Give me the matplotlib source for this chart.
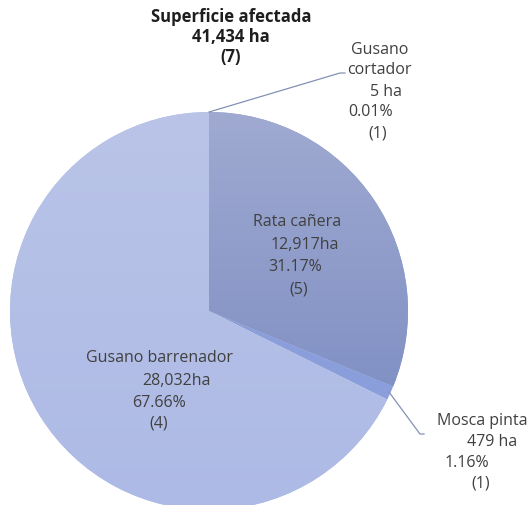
import matplotlib
matplotlib.use("Agg")
import matplotlib.pyplot as plt
import numpy as np
from matplotlib.colors import LinearSegmentedColormap

plagas = ["Gusano cortador", "Rata cañera", "Mosca pinta", "Gusano barrenador"]
hectareas = [5, 12917, 479, 28032]
porcentajes = ["0.01%", "31.17%", "1.16%", "67.66%"]
casos = [1, 5, 1, 4]
total_ha = "41,434"
total_casos = 7

colores = ["#a3aed6", "#919dca", "#8a9edb", "#b2bfe6"]

W, H = 531, 506
fig = plt.figure(figsize=(W / 100, H / 100), dpi=100)

# pie centre ~ (209, 312) px, radius ~199 px (bottom is cut by the image edge)
cx, cy, r = 209, 312, 199
ax = fig.add_axes([(cx - r) / W, 1 - (cy + r) / H, 2 * r / W, 2 * r / H])
wedges, _ = ax.pie(hectareas, colors=colores, startangle=90, counterclock=False,
                   radius=1, wedgeprops=dict(linewidth=0))

# degradado vertical en la rebanada de rata cañera
cmap = LinearSegmentedColormap.from_list("rata", ["#8090c4", "#a0aad1"])
grad = np.linspace(0, 1, 256).reshape(-1, 1)
im = ax.imshow(grad, cmap=cmap, extent=[-1, 1, -0.45, 1], origin="lower",
               aspect="auto", interpolation="bilinear", zorder=2)
im.set_clip_path(wedges[1])

# barrenador un poco mas claro arriba
cmap2 = LinearSegmentedColormap.from_list("barr", ["#adbae5", "#bac4e8"])
grad2 = np.linspace(0, 1, 256).reshape(-1, 1)
im2 = ax.imshow(grad2, cmap=cmap2, extent=[-1, 1, -1, 1], origin="lower",
                aspect="auto", interpolation="bilinear", zorder=2)
im2.set_clip_path(wedges[3])

ax.set_xlim(-1, 1)
ax.set_ylim(-1, 1)
ax.axis("off")

def px(x, y):
    return x / W, 1 - y / H

font = "Open Sans"
tc = "#404040"

# titulo
for txt, y in [("Superficie afectada", 17), (total_ha + " ha", 37), ("(%d)" % total_casos, 57)]:
    fig.text(*px(231, y), txt, ha="center", va="center", fontsize=12,
             fontweight="bold", family=font, color="#1e1e1e")

def etiqueta(lineas):
    for txt, x, y in lineas:
        fig.text(*px(x, y), txt, ha="center", va="center", fontsize=11.5,
                 family=font, color=tc)

etiqueta([("Gusano", 380, 50), ("cortador", 379, 70),
          (f"{hectareas[0]:,} ha", 386, 92), (porcentajes[0], 371, 112),
          ("(%d)" % casos[0], 378, 133)])
etiqueta([(plagas[1], 297, 222), (f"{hectareas[1]:,}ha", 305, 245),
          (porcentajes[1], 295, 267), ("(%d)" % casos[1], 299, 289)])
etiqueta([(plagas[3], 159, 358), (f"{hectareas[3]:,}ha", 176, 381),
          (porcentajes[3], 159, 403), ("(%d)" % casos[3], 159, 424)])
etiqueta([(plagas[2], 482, 421), (f"{hectareas[2]:,} ha", 492, 442),
          (porcentajes[2], 467, 463), ("(%d)" % casos[2], 481, 484)])

# lineas guia
lc = "#8391b5"
fig.add_artist(plt.Line2D([209 / W, 340 / W, 345 / W],
                          [1 - 113 / H, 1 - 74 / H, 1 - 74 / H], color=lc, lw=0.9))
fig.add_artist(plt.Line2D([389 / W, 420 / W, 424 / W],
                          [1 - 393 / H, 1 - 435 / H, 1 - 435 / H], color=lc, lw=0.9))

fig.savefig("out.png", dpi=100)
